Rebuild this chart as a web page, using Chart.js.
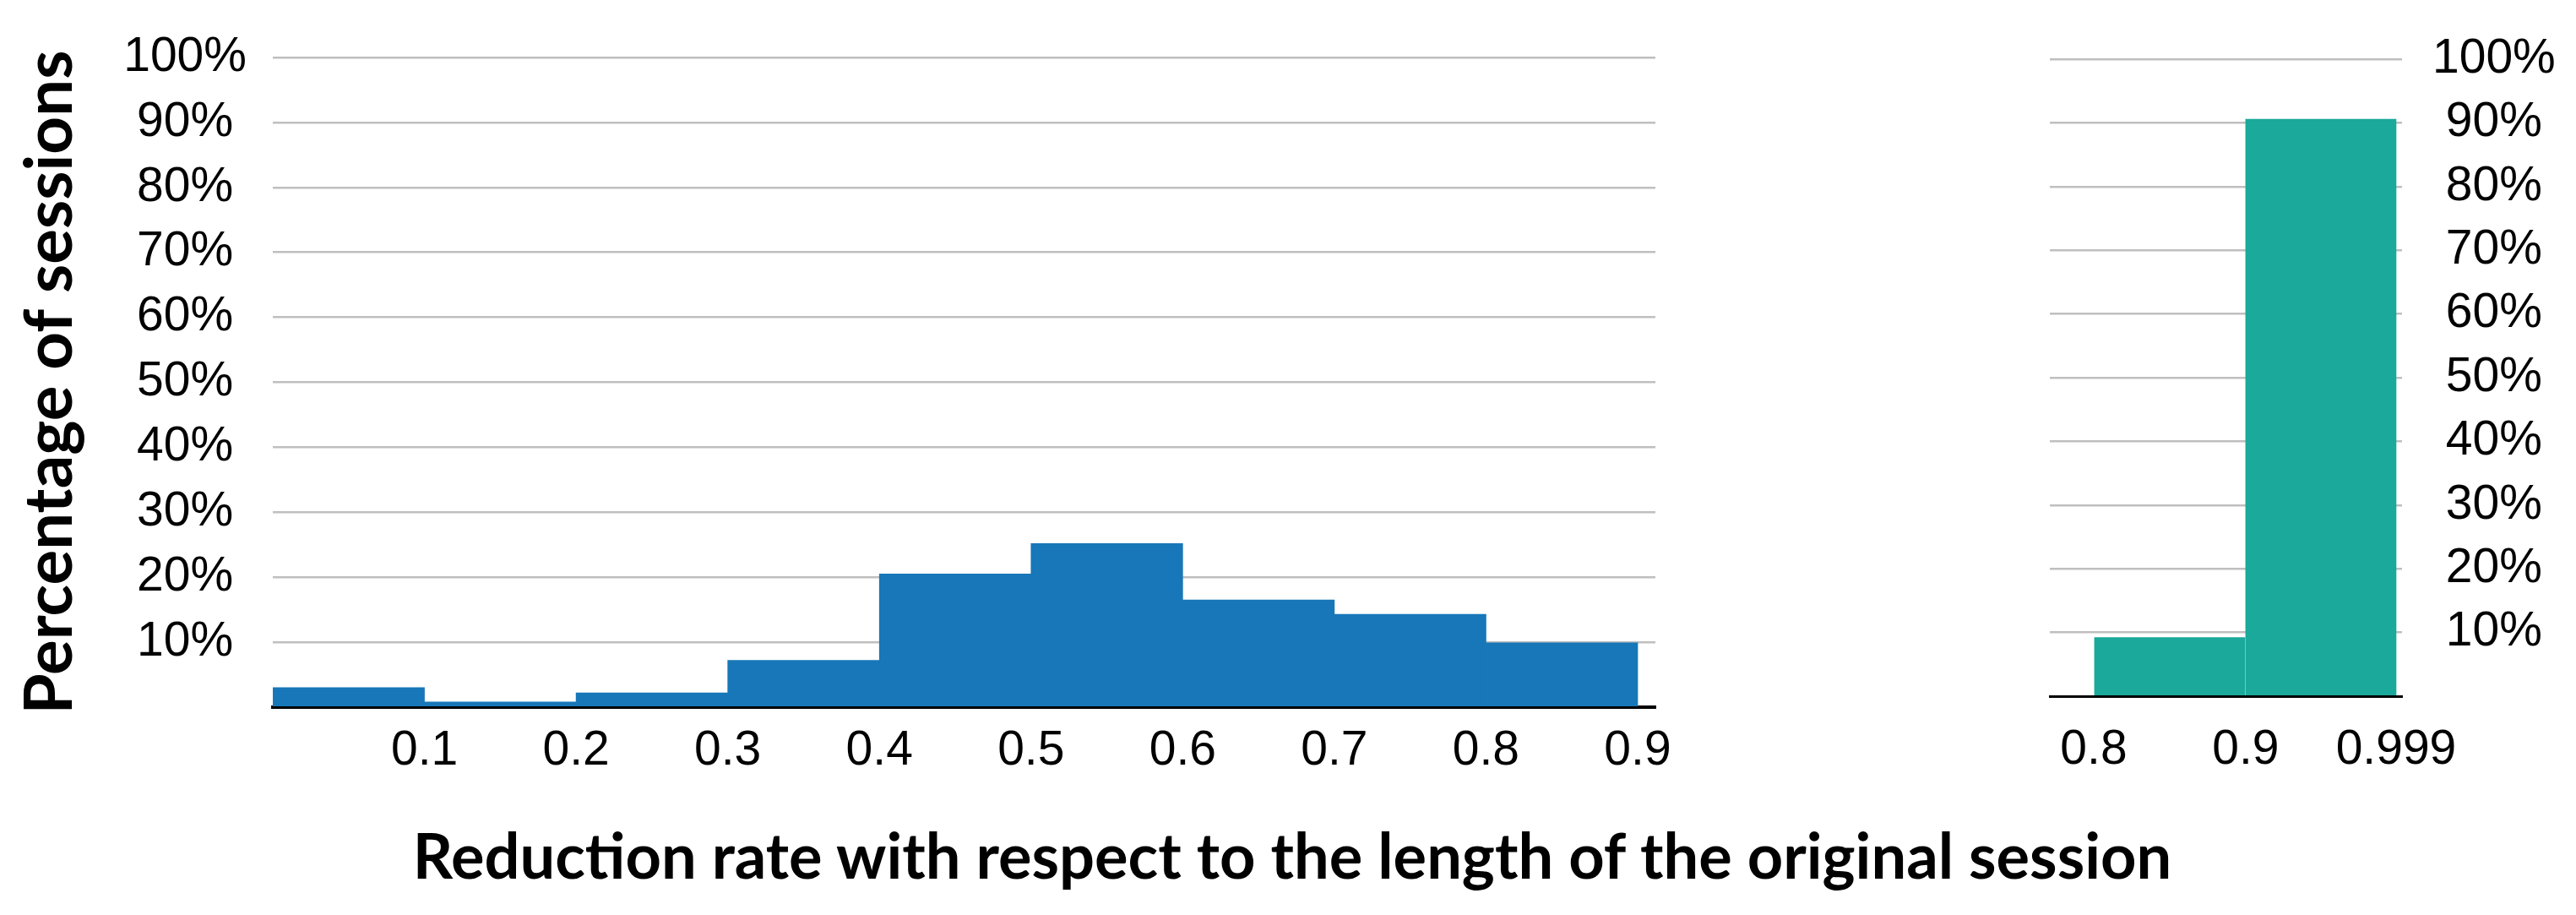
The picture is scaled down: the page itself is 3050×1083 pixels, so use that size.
<!DOCTYPE html>
<html>
<head>
<meta charset="utf-8">
<script src="https://cdn.jsdelivr.net/npm/chart.js@4.4.1/dist/chart.umd.min.js"></script>
<style>
  html, body { margin: 0; padding: 0; background: #fff; }
  #wrap { position: relative; width: 3050px; height: 1083px; overflow: hidden; }
  #leftChart  { position: absolute; left: 0; top: 0; }
  #rightChart { position: absolute; left: 2380px; top: 0; }
  #xTitle {
    position: absolute; left: 5px; top: 975px; width: 3050px;
    text-align: center; font: 700 74px Lato, sans-serif; line-height: 1; color: #000;
    white-space: nowrap;
  }
</style>
</head>
<body>
<div id="wrap">
  <canvas id="leftChart" width="2010" height="1083"></canvas>
  <canvas id="rightChart" width="670" height="1083"></canvas>
  <div id="xTitle">Reduction rate with respect to the length of the original session</div>
</div>
<script>
// ── Data ─────────────────────────────────────────────────────
const leftEdges   = [0, 0.1, 0.2, 0.3, 0.4, 0.5, 0.6, 0.7, 0.8, 0.9];
const leftValues  = [3.0, 0.8, 2.2, 7.2, 20.5, 25.2, 16.5, 14.3, 9.9];
const leftTicks   = [0.1, 0.2, 0.3, 0.4, 0.5, 0.6, 0.7, 0.8, 0.9];

const rightEdges  = [0.8, 0.9, 0.999];
const rightValues = [9.2, 90.6];
const rightTicks  = [0.8, 0.9, 0.999];

const yTitle = "Percentage of sessions";

// ── Styles ───────────────────────────────────────────────────
const TICK_FONT  = { family: "'Liberation Sans', Arial, sans-serif", size: 57 };
const TITLE_FONT = { family: "Lato, sans-serif", size: 78, weight: "bold" };
const GRID       = "#bfbfbf";

// ── Histogram builder ────────────────────────────────────────
function histChart(id, edges, values, ticks, cfg) {
  const points = values.map((v, i) => ({ x: (edges[i] + edges[i + 1]) / 2, y: v }));

  return new Chart(document.getElementById(id), {
    type: "bar",
    data: {
      datasets: [{
        data: points,
        backgroundColor: cfg.color,
        borderWidth: 0,
        barPercentage: 1,
        categoryPercentage: 1,
      }],
    },
    options: {
      responsive: false,
      animation: false,
      layout: { padding: cfg.padding },
      plugins: { legend: { display: false }, tooltip: { enabled: false } },
      scales: {
        x: {
          type: "linear",
          min: cfg.xMin,
          max: cfg.xMax,
          offset: false,
          grid: { display: false, offset: false },
          border: { color: "#000", width: cfg.axisWidth },
          afterBuildTicks: (s) => { s.ticks = ticks.map(v => ({ value: v })); },
          afterFit: (s) => { s.height = 100; },
          ticks: {
            font: TICK_FONT, color: "#000", padding: cfg.xPad,
            maxRotation: 0, autoSkip: false,
            callback: (v) => String(v),
          },
        },
        y: {
          position: cfg.yPos,
          min: 0,
          max: 100,
          grid: { color: GRID, lineWidth: 2.5, drawTicks: false },
          border: { display: false },
          afterFit: (s) => { s.width = cfg.yWidth; },
          ticks: {
            stepSize: 10, font: TICK_FONT, color: "#000",
            padding: cfg.yPad, crossAlign: "center",
            callback: (v) => (v === 0 ? "" : v + "%"),
          },
          title: cfg.title || { display: false },
        },
      },
    },
  });
}

// ── Charts ───────────────────────────────────────────────────
histChart("leftChart", leftEdges, leftValues, leftTicks, {
  color: "#1777b8",
  padding: { left: 0, top: 68, right: 50, bottom: 146 },
  xMin: 0, xMax: 0.9117,
  axisWidth: 4, xPad: 10,
  yPos: "left", yWidth: 323, yPad: 31,
  title: {
    display: true, text: yTitle, font: TITLE_FONT, color: "#000",
    padding: { top: 13, bottom: 0 },
  },
});

histChart("rightChart", rightEdges, rightValues, rightTicks, {
  color: "#1aa99b",
  padding: { left: 47, top: 56, right: 0, bottom: 159 },
  xMin: 0.7711, xMax: 1.0029,
  axisWidth: 3, xPad: 22,
  yPos: "right", yWidth: 206, yPad: 36,
});
</script>
</body>
</html>
